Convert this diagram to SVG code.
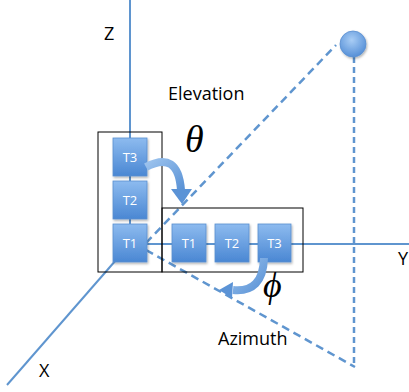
<svg xmlns="http://www.w3.org/2000/svg" width="409" height="392" viewBox="0 0 409 392">
<defs>
<linearGradient id="tg" x1="0" y1="0" x2="0" y2="1">
<stop offset="0" stop-color="#8dbbef"/>
<stop offset="1" stop-color="#4a87d3"/>
</linearGradient>
<linearGradient id="ag" x1="0" y1="0" x2="1" y2="1">
<stop offset="0" stop-color="#9cc3ee"/>
<stop offset="1" stop-color="#5b93d6"/>
</linearGradient>
<radialGradient id="bg" cx="0.45" cy="0.35" r="0.7">
<stop offset="0" stop-color="#a9cdf5"/>
<stop offset="1" stop-color="#4f8bd5"/>
</radialGradient>
<filter id="sh" x="-20%" y="-20%" width="150%" height="150%">
<feDropShadow dx="1" dy="1.5" stdDeviation="1" flood-color="#000" flood-opacity="0.3"/>
</filter>
</defs>
<style>
.axis{stroke:#5f95cf;stroke-width:2;fill:none}
.dash{stroke:#5f95cf;stroke-width:2.5;fill:none;stroke-dasharray:8 5}
.dot{stroke:#5f95cf;stroke-width:2.5;fill:none;stroke-dasharray:6 4}
.frame{fill:none;stroke:#000;stroke-width:1}
.t rect{fill:url(#tg);stroke:#5a8fd0;stroke-width:0.8;filter:url(#sh)}
.t text{fill:#fff;font-family:"Open Sans",sans-serif;font-size:13px;text-anchor:middle}
.lbl{font-family:"Open Sans",sans-serif;font-size:18px;fill:#000}
.greek{font-family:"Liberation Serif",serif;font-style:italic;fill:#000}
.arr{fill:none;stroke:url(#ag);stroke-width:8}
</style>
<g id="connectors">
<line class="axis" x1="130" y1="244" x2="7" y2="385"/>
<line class="axis" x1="130" y1="0" x2="130" y2="244"/>
<line class="axis" x1="130" y1="244" x2="409" y2="244"/>
<line class="dash" x1="146" y1="243" x2="336" y2="45"/>
<line class="dash" x1="146" y1="250" x2="355" y2="367"/>
<line class="dot" x1="354" y1="57" x2="354" y2="367"/>
</g>
<g id="frames">
<rect class="frame" x="98" y="132" width="64" height="140"/>
<rect class="frame" x="162" y="208" width="141" height="64"/>
</g>
<g id="vT3" class="t"><rect x="113" y="138" width="34" height="38"/><text x="130" y="162">T3</text></g>
<g id="vT2" class="t"><rect x="113" y="181" width="34" height="38"/><text x="130" y="205">T2</text></g>
<g id="vT1" class="t"><rect x="113" y="224" width="34" height="38"/><text x="130" y="248">T1</text></g>
<g id="hT1" class="t"><rect x="172" y="224" width="34" height="38"/><text x="189" y="248">T1</text></g>
<g id="hT2" class="t"><rect x="215" y="224" width="34" height="38"/><text x="232" y="248">T2</text></g>
<g id="hT3" class="t"><rect x="258" y="224" width="33" height="38"/><text x="274.5" y="248">T3</text></g>
<g id="elevation-arrow">
<path class="arr" d="M146,167 Q178,150 181,190"/>
<polygon points="171,189 192,189 182,204" fill="#5b93d6"/>
</g>
<g id="azimuth-arrow">
<path class="arr" d="M264,258 Q263,293 233,290"/>
<polygon points="233,282 232,298 219,290" fill="#5b93d6"/>
</g>
<g id="ball"><circle cx="353" cy="44" r="13" fill="url(#bg)" stroke="#5a8fd0" stroke-width="0.8" filter="url(#sh)"/></g>
<g id="labels">
<text class="lbl" x="104" y="40">Z</text>
<text class="lbl" x="168" y="100">Elevation</text>
<text class="lbl" x="218" y="345">Azimuth</text>
<text class="lbl" x="39" y="377">X</text>
<text class="lbl" x="398" y="265">Y</text>
<text class="greek" x="185" y="152" font-size="38">θ</text>
<text class="greek" x="263" y="297" font-size="36">ϕ</text>
</g>
</svg>
